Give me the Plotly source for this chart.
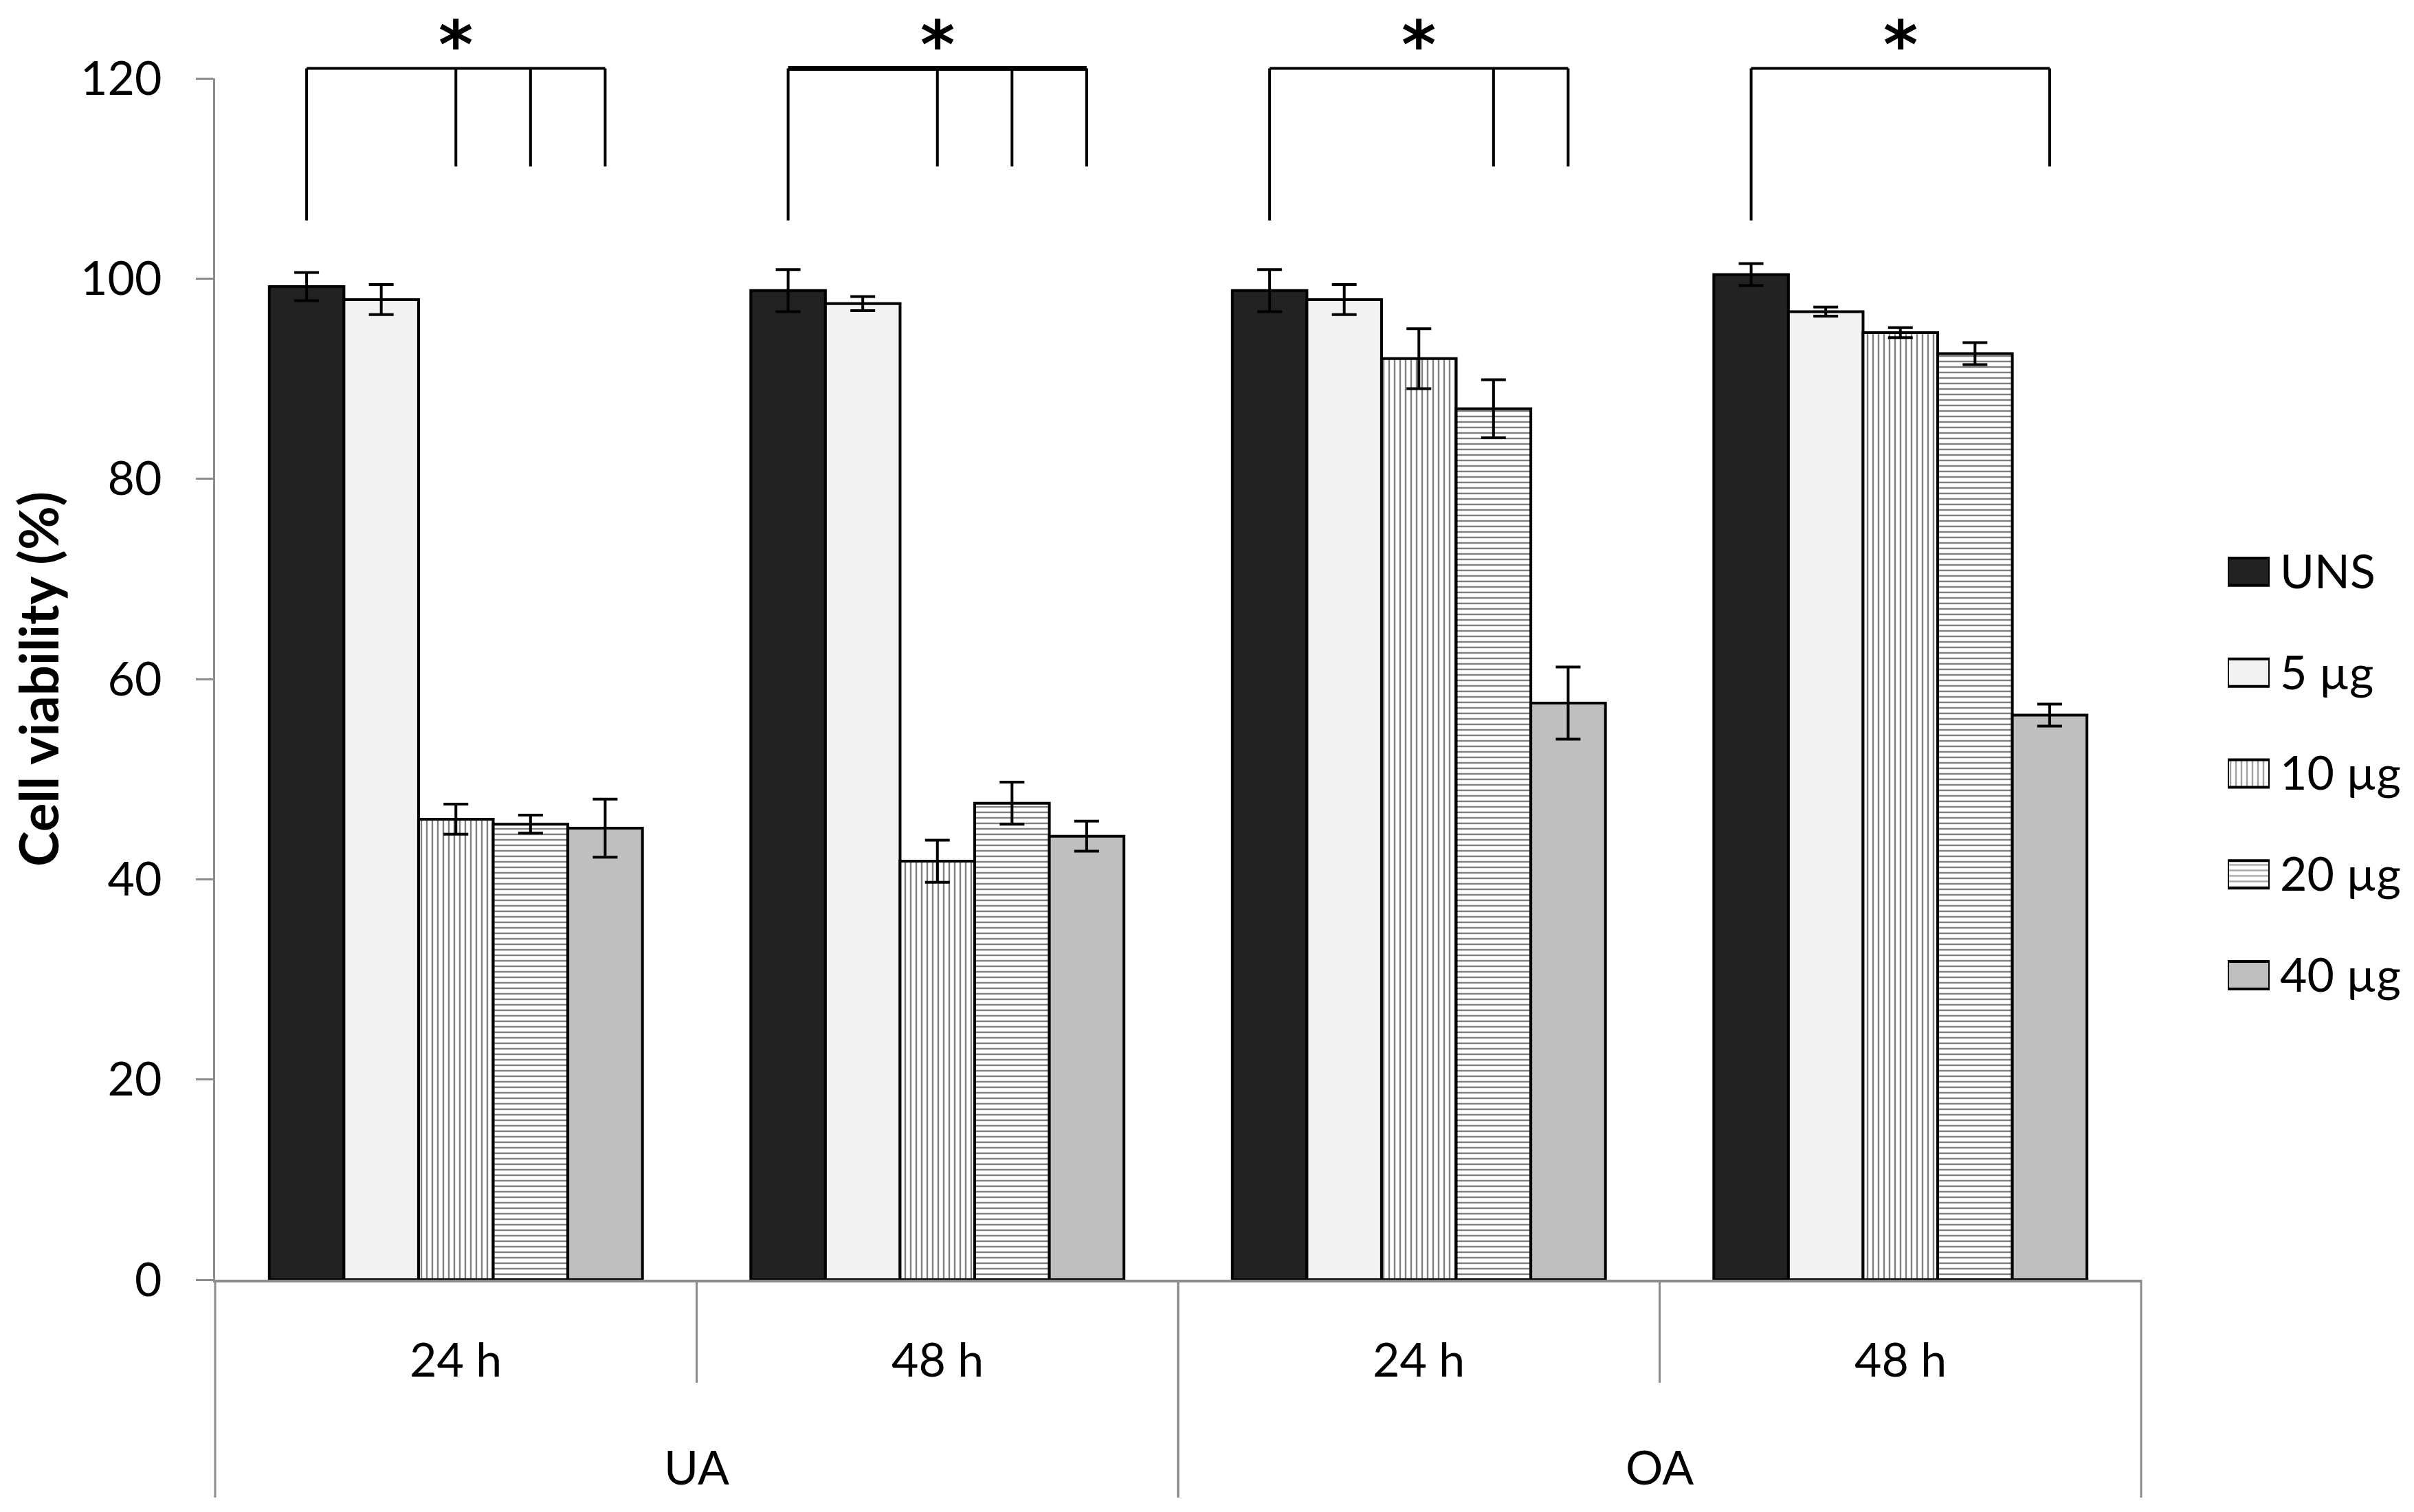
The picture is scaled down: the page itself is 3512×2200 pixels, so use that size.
import plotly.graph_objects as go

# x categories (outer level = compound, inner level = time point)
DRUGS = ["UA", "UA", "OA", "OA"]
TIMES = ["24 h", "48 h", "24 h", "48 h"]
DOSES = ["UNS", "5 µg", "10 µg", "20 µg", "40 µg"]

# cell viability (%) and error bars, one list per dose
UNS = [99.2, 98.8, 98.8, 100.4]
UNS_ERR = [1.4, 2.1, 2.1, 1.1]
DOSE_5 = [97.9, 97.5, 97.9, 96.7]
DOSE_5_ERR = [1.5, 0.7, 1.5, 0.45]
DOSE_10 = [46.0, 41.8, 92.0, 94.6]
DOSE_10_ERR = [1.5, 2.1, 3.0, 0.5]
DOSE_20 = [45.5, 47.6, 87.0, 92.5]
DOSE_20_ERR = [0.9, 2.1, 2.9, 1.1]
DOSE_40 = [45.1, 44.3, 57.6, 56.4]
DOSE_40_ERR = [2.9, 1.5, 3.6, 1.1]

# significance brackets: dose bars each bracket drops onto
SIG_DROPS = [[2, 3, 4], [2, 3, 4], [3, 4], [4]]
SIG_TOP = 121.0
SIG_LEFT_END = 105.8
SIG_DROP_END = 111.2
SIG_STAR_Y = 124.4

YMAX = 120
values = [UNS, DOSE_5, DOSE_10, DOSE_20, DOSE_40]
errors = [UNS_ERR, DOSE_5_ERR, DOSE_10_ERR, DOSE_20_ERR, DOSE_40_ERR]
fills = ["#222222", "#f2f2f2", "white", "white", "#bfbfbf"]
patterns = ["", "", "|", "-", ""]
GRAY = "#8c8c8c"
BARGAP = 0.225

W, H = 3512, 2200
L, R, T, B = 305, 20, 106, 346
plot_w = W - L - R
plot_h = H - T - B
x_end = (3107 - L) / plot_w
xpos = list(range(len(TIMES)))
n_cat = len(TIMES)

fig = go.Figure()

for name, y, err, fill, pat in zip(DOSES, values, errors, fills, patterns):
    fig.add_trace(go.Bar(
        x=xpos, y=y, name=name, showlegend=False,
        marker=dict(color=fill, line=dict(color="black", width=4),
                    pattern=dict(shape=pat, fgcolor="black", bgcolor=fill,
                                 size=8, solidity=0.3)),
        error_y=dict(type="data", array=err, color="black", thickness=4, width=18),
    ))

# legend drawn as a small bar subplot so the swatches keep their patterns
fig.add_trace(go.Bar(
    y=DOSES, x=[1] * len(DOSES), orientation="h", xaxis="x2", yaxis="y2",
    width=0.272, showlegend=False, hoverinfo="skip", cliponaxis=False,
    marker=dict(color=fills, line=dict(color="black", width=4),
                pattern=dict(shape=patterns, fgcolor="black", bgcolor=fills,
                             size=8, solidity=0.3)),
))

# two-level category labels under the axis
for i, t in enumerate(TIMES):
    fig.add_annotation(x=i, y=-114 / plot_h, xref="x", yref="paper", text=t,
                       showarrow=False, yanchor="middle")
outer = []
for i, d in enumerate(DRUGS):
    if outer and outer[-1][0] == d:
        outer[-1][2] = i
    else:
        outer.append([d, i, i])
for d, i0, i1 in outer:
    fig.add_annotation(x=(i0 + i1) / 2, y=-271 / plot_h, xref="x", yref="paper", text=d,
                       showarrow=False, yanchor="middle")
    # long separators at the edges of each outer group
    for xb in (i0 - 0.5, i1 + 0.5):
        fig.add_shape(type="line", xref="x domain", yref="paper",
                      x0=(xb + 0.5) / n_cat, x1=(xb + 0.5) / n_cat, y0=0, y1=-317 / plot_h,
                      line=dict(color=GRAY, width=3))
    # shorter separators between time points inside a group
    for xb in range(i0, i1):
        fig.add_shape(type="line", xref="x domain", yref="paper",
                      x0=(xb + 1) / n_cat, x1=(xb + 1) / n_cat, y0=0, y1=-150 / plot_h,
                      line=dict(color=GRAY, width=3))

# significance brackets
w = (1 - BARGAP) / len(DOSES)


def bar_x(group, dose):
    return group - (1 - BARGAP) / 2 + w * (dose + 0.5)


for g, drops in enumerate(SIG_DROPS):
    x_left = bar_x(g, 0)
    x_right = bar_x(g, max(drops))
    fig.add_shape(type="line", xref="x", yref="paper", x0=x_left, x1=x_right,
                  y0=SIG_TOP / YMAX, y1=SIG_TOP / YMAX,
                  line=dict(color="black", width=7 if g == 1 else 4))
    fig.add_shape(type="line", xref="x", yref="paper", x0=x_left, x1=x_left,
                  y0=SIG_LEFT_END / YMAX, y1=SIG_TOP / YMAX,
                  line=dict(color="black", width=4))
    for d in drops:
        fig.add_shape(type="line", xref="x", yref="paper", x0=bar_x(g, d), x1=bar_x(g, d),
                      y0=SIG_DROP_END / YMAX, y1=SIG_TOP / YMAX,
                      line=dict(color="black", width=4))
    fig.add_annotation(x=(x_left + x_right) / 2, y=SIG_STAR_Y / YMAX, xref="x", yref="paper",
                       text="<b>*</b>", showarrow=False, yanchor="middle", yshift=-16,
                       font=dict(family="DejaVu Sans", size=96, color="black"))

fig.update_layout(
    width=W, height=H,
    margin=dict(l=L, r=R, t=T, b=B),
    plot_bgcolor="white", paper_bgcolor="white",
    barmode="group", bargap=BARGAP, bargroupgap=0,
    font=dict(family="Lato", size=68, color="black"),
    xaxis=dict(domain=[0, x_end], range=[-0.5, n_cat - 0.5], showline=True,
               linecolor=GRAY, linewidth=4, ticks="", showticklabels=False,
               showgrid=False, zeroline=False, automargin=False),
    yaxis=dict(range=[0, YMAX], dtick=20, showline=True, linecolor=GRAY, linewidth=3,
               ticks="outside", ticklen=25, tickcolor=GRAY, tickwidth=3,
               showgrid=False, zeroline=False, ticklabelstandoff=36, automargin=False,
               title=dict(text="<b>Cell viability (%)</b>", font=dict(size=78), standoff=40)),
    xaxis2=dict(domain=[(3233 - L) / plot_w, (3294 - L) / plot_w], range=[0, 1],
                visible=False, anchor="y2", automargin=False),
    yaxis2=dict(domain=[0.2114, 0.6313], anchor="x2", side="right", autorange="reversed",
                showline=False, ticks="", showgrid=False, zeroline=False,
                ticklabelstandoff=14, automargin=False),
)

fig.write_html("out.html")
